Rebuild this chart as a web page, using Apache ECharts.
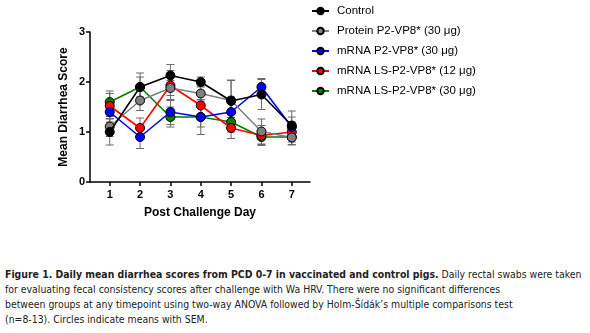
<!DOCTYPE html>
<html>
<head>
<meta charset="utf-8">
<script src="https://cdn.jsdelivr.net/npm/echarts@6/dist/echarts.min.js"></script>
<style>
  html, body { margin: 0; padding: 0; background: #fff; }
  #main { width: 590px; height: 260px; }
  #caption {
    position: absolute; left: 5px; top: 267px; width: 585px;
    font-family: "DejaVu Sans Condensed", "Liberation Sans Narrow", sans-serif;
    font-size: 10.4px; line-height: 15px; color: #222;
    white-space: nowrap;
  }
</style>
</head>
<body>
<div id="main"></div>
<div id="caption"><b>Figure 1. Daily mean diarrhea scores from PCD 0-7 in vaccinated and control pigs.</b> Daily rectal swabs were taken<br>for evaluating fecal consistency scores after challenge with Wa HRV. There were no significant differences<br>between groups at any timepoint using two-way ANOVA followed by Holm-Šídák’s multiple comparisons test<br>(n=8-13). Circles indicate means with SEM.</div>
<script>
var days = [1, 2, 3, 4, 5, 6, 7];

var seriesNames = ['Control', 'Protein P2-VP8* (30 μg)', 'mRNA P2-VP8* (30 μg)', 'mRNA LS-P2-VP8* (12 μg)', 'mRNA LS-P2-VP8* (30 μg)'];
var seriesColors = ['#000000', '#808080', '#0000ff', '#ff0000', '#008000'];

// means
var control  = [1.00, 1.90, 2.13, 2.00, 1.62, 1.75, 1.13];
var protein  = [1.11, 1.63, 1.88, 1.77, 1.63, 1.01, 0.89];
var mrna30   = [1.40, 0.90, 1.40, 1.30, 1.40, 1.90, 1.10];
var ls12     = [1.52, 1.08, 1.93, 1.53, 1.08, 0.93, 1.00];
var ls30     = [1.60, 1.90, 1.30, 1.30, 1.20, 0.90, 0.90];

// SEM
var controlSem = [0.26, 0.28, 0.22, 0.10, 0.42, 0.30, 0.29];
var proteinSem = [0.20, 0.20, 0.15, 0.15, 0.40, 0.25, 0.15];
var mrna30Sem  = [0.20, 0.23, 0.25, 0.35, 0.30, 0.17, 0.20];
var ls12Sem    = [0.25, 0.20, 0.30, 0.25, 0.21, 0.20, 0.20];
var ls30Sem    = [0.22, 0.20, 0.20, 0.20, 0.20, 0.15, 0.15];

var means = [control, protein, mrna30, ls12, ls30];
var sems = [controlSem, proteinSem, mrna30Sem, ls12Sem, ls30Sem];

var chart = echarts.init(document.getElementById('main'));
var series = [];

// error bars first (behind)
for (var s = 0; s < means.length; s++) {
    var errData = [];
    for (var i = 0; i < days.length; i++) {
        errData.push([days[i], means[s][i] - sems[s][i], means[s][i] + sems[s][i]]);
    }
    series.push({
        type: 'custom',
        name: seriesNames[s] + ' SEM',
        data: errData,
        z: 1,
        silent: true,
        renderItem: function (params, api) {
            var x = api.value(0);
            var lo = api.coord([x, api.value(1)]);
            var hi = api.coord([x, api.value(2)]);
            var w = 4;
            var st = { stroke: '#6b6b6b', lineWidth: 1 };
            return {
                type: 'group',
                children: [
                    { type: 'line', shape: { x1: lo[0], y1: lo[1], x2: hi[0], y2: hi[1] }, style: st },
                    { type: 'line', shape: { x1: lo[0] - w, y1: lo[1], x2: lo[0] + w, y2: lo[1] }, style: st },
                    { type: 'line', shape: { x1: hi[0] - w, y1: hi[1], x2: hi[0] + w, y2: hi[1] }, style: st }
                ]
            };
        }
    });
}

for (var s = 0; s < means.length; s++) {
    var d = [];
    for (var i = 0; i < days.length; i++) d.push([days[i], means[s][i]]);
    series.push({
        type: 'line',
        name: seriesNames[s],
        data: d,
        z: 10 - s,
        symbol: 'circle',
        symbolSize: 9,
        lineStyle: { color: seriesColors[s], width: 1.6 },
        itemStyle: { color: seriesColors[s], borderColor: '#000', borderWidth: 1 },
        emphasis: { disabled: true }
    });
}

var option = {
    animation: false,
    grid: { left: 90, right: 280, top: 32, bottom: 78 },
    legend: {
        orient: 'vertical',
        left: 306,
        top: 0,
        data: seriesNames,
        itemWidth: 17,
        itemHeight: 8,
        itemGap: 8,
        textStyle: { fontFamily: 'Liberation Sans', fontSize: 11.5, color: '#000', padding: [0, 0, 0, 3] }
    },
    xAxis: {
        type: 'value',
        min: 0.35,
        max: 7.6,
        name: 'Post Challenge Day',
        nameLocation: 'middle',
        nameGap: 25,
        nameTextStyle: { fontFamily: 'Liberation Sans', fontWeight: 'bold', fontSize: 12, color: '#000' },
        axisLine: { lineStyle: { color: '#000', width: 1.5 } },
        axisTick: { show: true, customValues: days, length: 4, lineStyle: { color: '#000', width: 1.5 } },
        axisLabel: { customValues: days, fontFamily: 'Liberation Sans', fontWeight: 'bold', fontSize: 11, color: '#000', margin: 7 },
        splitLine: { show: false }
    },
    yAxis: {
        type: 'value',
        min: 0,
        max: 3,
        interval: 1,
        name: 'Mean Diarrhea Score',
        nameLocation: 'middle',
        nameGap: 20,
        nameTextStyle: { fontFamily: 'Liberation Sans', fontWeight: 'bold', fontSize: 12, color: '#000' },
        axisLine: { show: true, lineStyle: { color: '#000', width: 1.5 } },
        axisTick: { show: true, length: 4, lineStyle: { color: '#000', width: 1.5 } },
        axisLabel: { fontFamily: 'Liberation Sans', fontWeight: 'bold', fontSize: 11, color: '#000', margin: 5 },
        splitLine: { show: false }
    },
    series: series
};
chart.setOption(option);
</script>
</body>
</html>
